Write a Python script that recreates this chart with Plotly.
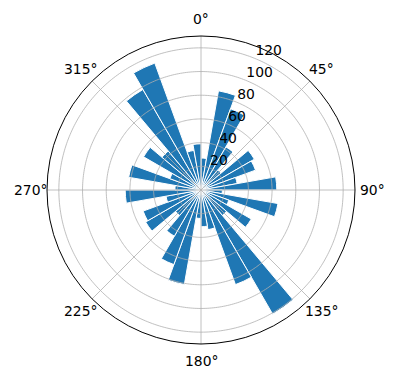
import numpy as np
import plotly.graph_objects as go

theta_deg = [5, 15, 25, 35, 45, 55, 65, 75, 85, 95, 105, 115, 125, 135, 145, 155, 165, 175,
             185, 195, 205, 215, 225, 235, 245, 255, 265, 275, 285, 295, 305, 315, 325, 335, 345, 355]
radii = [27, 85, 73, 42, 22, 52, 49, 31, 64, 18, 66, 25, 49, 28, 121, 85, 34, 31,
         24, 81, 67, 45, 28, 54, 52, 30, 64, 22, 62, 28, 56, 43, 98, 114, 34, 39]
bar_width = [10] * len(theta_deg)
angle_ticks = [0, 45, 90, 135, 180, 225, 270, 315]
angle_labels = ["0°", "45°", "90°", "135°", "180°", "225°", "270°", "315°"]
radial_ticks = [20, 40, 60, 80, 100, 120]
radial_labels = ["20", "40", "60", "80", "100", "120"]
r_max = 130
label_angle = 22.5

W, H = 396, 380
cx, cy, R_out = 201, 190, 154   # polar centre and outer radius in px
label_pad_r = 171               # px distance of angular labels from centre

fig = go.Figure()
fig.add_trace(go.Barpolar(
    r=radii, theta=theta_deg, width=bar_width,
    marker=dict(color="#1f77b4", line=dict(color="white", width=1)),
    hoverinfo="skip",
))

# grid drawn above the bars (as matplotlib does)
ring_theta = np.linspace(0, 360, 361)
grid_color = "#b0b0b0"
for rv in radial_ticks:
    fig.add_trace(go.Scatterpolar(r=[rv] * len(ring_theta), theta=ring_theta, mode="lines",
                                  line=dict(color=grid_color, width=0.8), hoverinfo="skip"))
for a in angle_ticks:
    fig.add_trace(go.Scatterpolar(r=[0, r_max], theta=[a, a], mode="lines",
                                  line=dict(color=grid_color, width=0.8), hoverinfo="skip"))

# radial tick labels
fig.add_trace(go.Scatterpolar(
    r=radial_ticks, theta=[label_angle] * len(radial_ticks), mode="text",
    text=radial_labels, textposition="top right", cliponaxis=False,
    textfont=dict(family="DejaVu Sans", size=13.9, color="black"), hoverinfo="skip",
))

# angular tick labels as annotations around the circle
annotations = []
for a, lab in zip(angle_ticks, angle_labels):
    t = np.deg2rad(a)
    px = cx + label_pad_r * np.sin(t)
    py = cy - label_pad_r * np.cos(t)
    annotations.append(dict(x=px / W, y=1 - py / H, xref="paper", yref="paper",
                            text=lab, showarrow=False, xanchor="center", yanchor="middle",
                            font=dict(family="DejaVu Sans", size=13.9, color="black")))

fig.update_layout(
    width=W, height=H,
    margin=dict(l=0, r=0, t=0, b=0),
    paper_bgcolor="white",
    showlegend=False,
    font=dict(family="DejaVu Sans", size=13.9, color="black"),
    annotations=annotations,
    polar=dict(
        domain=dict(x=[(cx - R_out) / W, (cx + R_out) / W],
                    y=[1 - (cy + R_out) / H, 1 - (cy - R_out) / H]),
        bgcolor="white",
        bargap=0,
        angularaxis=dict(
            rotation=90, direction="clockwise",
            tickvals=angle_ticks, showticklabels=False,
            showline=True, linecolor="black", linewidth=1,
            showgrid=False, ticks="",
        ),
        radialaxis=dict(
            range=[0, r_max], angle=67.5,
            tickvals=radial_ticks, showticklabels=False,
            showline=False, ticks="", showgrid=False,
        ),
    ),
)

fig.write_html("out.html")
